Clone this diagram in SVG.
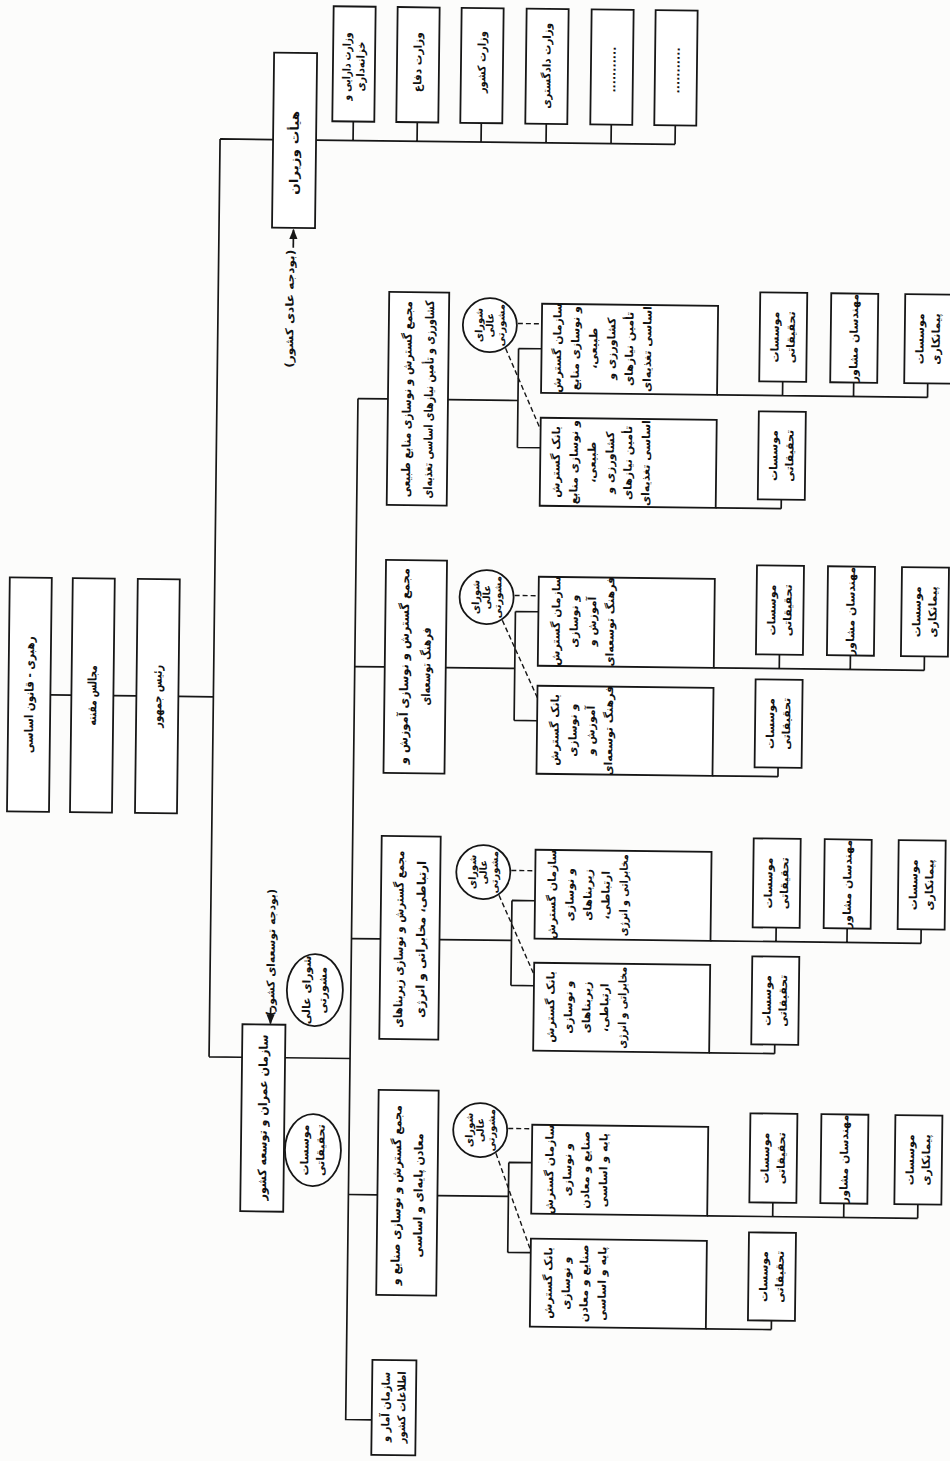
<svg xmlns="http://www.w3.org/2000/svg" width="950" height="1461" viewBox="0 0 950 1461">
<style>
.bx{fill:#fff;stroke:#161616;stroke-width:1.8}
.ln{fill:none;stroke:#161616;stroke-width:1.7}
.ds{fill:none;stroke:#161616;stroke-width:1.4;stroke-dasharray:5 3}
text{font-family:"DejaVu Sans",sans-serif;font-weight:bold;fill:#111;direction:rtl;text-anchor:middle;dominant-baseline:central}
.f13{font-size:13px}.f12{font-size:12px}.f11{font-size:11px}.f10{font-size:10px}
</style>
<defs>
<marker id="ah" viewBox="0 0 10 10" refX="9" refY="5" markerWidth="6" markerHeight="6" orient="auto"><path d="M0,1 L10,5 L0,9 z" fill="#161616"/></marker>
</defs>
<rect width="950" height="1461" fill="#fcfcfb"/>
<g transform="rotate(0.6875 475 730)">
<g id="connectors">
<path class="ln" d="M50,700H71 M113,700H136 M178,700H213 M213,142V1060 M213,142H266 M213,1060H246 M289,1060H354"/>
<path class="ln" d="M309,142H668 M346,123V142 M410,123V142 M474,123V142 M539,123V142 M604,123V142 M668,123V142"/>
<path class="ln" d="M287.5,250V232" marker-end="url(#ah)"/>
<path class="ln" d="M274,1010V1026" marker-end="url(#ah)"/>
<path class="ln" d="M354,400V1421H380"/>
<path class="ln" d="M354,400H384 M444,400H514 M514,348V447 M514,348H537 M514,447H537 M713,392H923.5 M778.5,378V392 M849.5,378V392 M923.5,378V392 M713,505H778.5 M778.5,496V505"/>
<path class="ds" d="M513,323H537 M501,348L537,429"/>
<path class="ln" d="M354,668H384 M445,668H514 M514,611V720 M514,611H537 M514,720H537 M713,665H923.5 M778.5,651V665 M849.5,651V665 M923.5,651V665 M713,773H778.5 M778.5,764V773"/>
<path class="ds" d="M513,595H537 M501,620L537,697"/>
<path class="ln" d="M354,940H383 M442,940H514 M514,900V985 M514,900H537 M514,985H537 M713,938H923.5 M778.5,924V938 M849.5,924V938 M923.5,924V938 M713,1050H778.5 M778.5,1041V1050"/>
<path class="ds" d="M513,870H537 M501,895L537,974"/>
<path class="ln" d="M354,1196H383 M443,1196H514 M514,1162V1252 M514,1162H537 M514,1252H537 M713,1213H923.5 M778.5,1199V1213 M849.5,1199V1213 M923.5,1199V1213 M713,1326H778.5 M778.5,1317V1326"/>
<path class="ds" d="M513,1128H537 M501,1153L537,1250"/>
</g>

<g id="rahbari"><rect class="bx" x="8" y="583" width="42" height="234"/><text class="f12" textLength="117" lengthAdjust="spacingAndGlyphs" transform="translate(29,700) rotate(-90)">رهبری - قانون اساسی</text></g>
<g id="majales"><rect class="bx" x="71" y="583" width="42" height="234"/><text class="f12" textLength="60" lengthAdjust="spacingAndGlyphs" transform="translate(92,700) rotate(-90)">مجالس مقننه</text></g>
<g id="raees"><rect class="bx" x="136" y="583" width="42" height="234"/><text class="f12" textLength="63" lengthAdjust="spacingAndGlyphs" transform="translate(157,700) rotate(-90)">رئیس جمهور</text></g>

<g id="hayat"><rect class="bx" x="266" y="55" width="43" height="175"/><text class="f12" textLength="84" lengthAdjust="spacingAndGlyphs" transform="translate(287.5,155) rotate(-90)">هیأت وزیران</text></g>
<g id="budget1"><text class="f11" textLength="118" lengthAdjust="spacingAndGlyphs" transform="translate(285,311) rotate(-90)">(بودجه عادی کشور)</text></g>

<g id="min1"><rect class="bx" x="325" y="8" width="42" height="115"/><g transform="translate(346,68) rotate(-90)"><text class="f11" y="-7" textLength="68" lengthAdjust="spacingAndGlyphs">وزارت دارایی و</text><text class="f11" y="7" textLength="50" lengthAdjust="spacingAndGlyphs">خزانه‌داری</text></g></g>
<g id="min2"><rect class="bx" x="389" y="8" width="42" height="115"/><text class="f11" textLength="60" lengthAdjust="spacingAndGlyphs" transform="translate(410,63) rotate(-90)">وزارت دفاع</text></g>
<g id="min3"><rect class="bx" x="453" y="8" width="42" height="115"/><text class="f11" textLength="62" lengthAdjust="spacingAndGlyphs" transform="translate(474,62) rotate(-90)">وزارت کشور</text></g>
<g id="min4"><rect class="bx" x="518" y="8" width="42" height="115"/><text class="f11" textLength="86" lengthAdjust="spacingAndGlyphs" transform="translate(539,65) rotate(-90)">وزارت دادگستری</text></g>
<g id="min5"><rect class="bx" x="583" y="8" width="42" height="115"/><text class="f11" transform="translate(604,68) rotate(-90)">...........</text></g>
<g id="min6"><rect class="bx" x="647" y="8" width="42" height="115"/><text class="f11" transform="translate(668,68) rotate(-90)">...........</text></g>

<g id="omran"><rect class="bx" x="246" y="1027" width="43" height="187"/><text class="f12" textLength="166" lengthAdjust="spacingAndGlyphs" transform="translate(267.5,1120) rotate(-90)">سازمان عمران و توسعه کشور</text></g>
<g id="budget2"><text class="f11" textLength="127" lengthAdjust="spacingAndGlyphs" transform="translate(274,955) rotate(-90)">(بودجه توسعه‌ای کشور)</text></g>
<g id="shora0"><ellipse class="bx" cx="318" cy="992" rx="28" ry="36"/><g transform="translate(318,992) rotate(-90)"><text class="f11" y="-8">شورای عالی</text><text class="f11" y="8">مشورتی</text></g></g>
<g id="moassesat0"><ellipse class="bx" cx="318" cy="1152" rx="28" ry="36"/><g transform="translate(318,1152) rotate(-90)"><text class="f11" y="-8">موسسات</text><text class="f11" y="8">تحقیقاتی</text></g></g>

<g id="amar"><rect class="bx" x="380" y="1361" width="44" height="95"/><g transform="translate(402,1408) rotate(-90)"><text class="f11" y="-8" textLength="70" lengthAdjust="spacingAndGlyphs">سازمان آمار و</text><text class="f11" y="8" textLength="72" lengthAdjust="spacingAndGlyphs">اطلاعات کشور</text></g></g>

<!-- Branch 1 -->
<g id="majma1"><rect class="bx" x="384" y="293" width="60" height="213"/><g transform="translate(414,400) rotate(-90)"><text class="f12" y="-11" textLength="196" lengthAdjust="spacingAndGlyphs">مجمع گسترش و نوسازی منابع طبیعی</text><text class="f12" y="11" textLength="198" lengthAdjust="spacingAndGlyphs">کشاورزی و تأمین نیازهای اساسی تغذیه‌ای</text></g></g>
<g id="shora1"><circle class="bx" cx="485" cy="325" r="27"/><g transform="translate(485,325) rotate(-90)"><text class="f10" y="-11">شورای</text><text class="f10" y="0">عالی</text><text class="f10" y="11">مشورتی</text></g></g>
<g id="sazman1"><rect class="bx" x="537" y="303" width="176" height="89"/><g transform="translate(598,347) rotate(-90)"><text class="f11" y="-45">سازمان گسترش</text><text class="f11" y="-27">و نوسازی منابع</text><text class="f11" y="-9">طبیعی،</text><text class="f11" y="9">کشاورزی و</text><text class="f11" y="27">تأمین نیازهای</text><text class="f11" y="45">اساسی تغذیه‌ای</text></g></g>
<g id="bank1"><rect class="bx" x="537" y="417" width="176" height="88"/><g transform="translate(598,461) rotate(-90)"><text class="f11" y="-45">بانک گسترش</text><text class="f11" y="-27">و نوسازی منابع</text><text class="f11" y="-9">طبیعی،</text><text class="f11" y="9">کشاورزی و</text><text class="f11" y="27">تأمین نیازهای</text><text class="f11" y="45">اساسی تغذیه‌ای</text></g></g>
<g id="s1c1"><rect class="bx" x="755" y="289" width="47" height="89"/><g transform="translate(778.5,333.5) rotate(-90)"><text class="f11" y="-8">موسسات</text><text class="f11" y="8">تحقیقاتی</text></g></g>
<g id="s1c2"><rect class="bx" x="826" y="289" width="47" height="89"/><text class="f11" transform="translate(849.5,333.5) rotate(-90)">مهندسان مشاور</text></g>
<g id="s1c3"><rect class="bx" x="900" y="289" width="47" height="89"/><g transform="translate(923.5,333.5) rotate(-90)"><text class="f11" y="-8">موسسات</text><text class="f11" y="8">پیمانکاری</text></g></g>
<g id="b1c1"><rect class="bx" x="755" y="408" width="47" height="88"/><g transform="translate(778.5,452) rotate(-90)"><text class="f11" y="-8">موسسات</text><text class="f11" y="8">تحقیقاتی</text></g></g>

<!-- Branch 2 -->
<g id="majma2"><rect class="bx" x="384" y="561" width="61" height="213"/><g transform="translate(414.5,667) rotate(-90)"><text class="f12" y="-11" textLength="196" lengthAdjust="spacingAndGlyphs">مجمع گسترش و نوسازی آموزش و</text><text class="f12" y="11" textLength="78" lengthAdjust="spacingAndGlyphs">فرهنگ توسعه‌ای</text></g></g>
<g id="shora2"><circle class="bx" cx="485" cy="597" r="27"/><g transform="translate(485,597) rotate(-90)"><text class="f10" y="-11">شورای</text><text class="f10" y="0">عالی</text><text class="f10" y="11">مشورتی</text></g></g>
<g id="sazman2"><rect class="bx" x="537" y="576" width="176" height="89"/><g transform="translate(582,620) rotate(-90)"><text class="f11" y="-27">سازمان گسترش</text><text class="f11" y="-9">و نوسازی</text><text class="f11" y="9">آموزش و</text><text class="f11" y="27">فرهنگ توسعه‌ای</text></g></g>
<g id="bank2"><rect class="bx" x="537" y="685" width="176" height="88"/><g transform="translate(582,729) rotate(-90)"><text class="f11" y="-27">بانک گسترش</text><text class="f11" y="-9">و نوسازی</text><text class="f11" y="9">آموزش و</text><text class="f11" y="27">فرهنگ توسعه‌ای</text></g></g>
<g id="s2c1"><rect class="bx" x="755" y="562" width="47" height="89"/><g transform="translate(778.5,606.5) rotate(-90)"><text class="f11" y="-8">موسسات</text><text class="f11" y="8">تحقیقاتی</text></g></g>
<g id="s2c2"><rect class="bx" x="826" y="562" width="47" height="89"/><text class="f11" transform="translate(849.5,606.5) rotate(-90)">مهندسان مشاور</text></g>
<g id="s2c3"><rect class="bx" x="900" y="562" width="47" height="89"/><g transform="translate(923.5,606.5) rotate(-90)"><text class="f11" y="-8">موسسات</text><text class="f11" y="8">پیمانکاری</text></g></g>
<g id="b2c1"><rect class="bx" x="755" y="676" width="47" height="88"/><g transform="translate(778.5,720) rotate(-90)"><text class="f11" y="-8">موسسات</text><text class="f11" y="8">تحقیقاتی</text></g></g>

<!-- Branch 3 -->
<g id="majma3"><rect class="bx" x="383" y="837" width="59" height="203"/><g transform="translate(412.5,940) rotate(-90)"><text class="f12" y="-11" textLength="177" lengthAdjust="spacingAndGlyphs">مجمع گسترش و نوسازی زیربناهای</text><text class="f12" y="11" textLength="157" lengthAdjust="spacingAndGlyphs">ارتباطی، مخابراتی و انرژی</text></g></g>
<g id="shora3"><circle class="bx" cx="485" cy="872" r="27"/><g transform="translate(485,872) rotate(-90)"><text class="f10" y="-11">شورای</text><text class="f10" y="0">عالی</text><text class="f10" y="11">مشورتی</text></g></g>
<g id="sazman3"><rect class="bx" x="537" y="849" width="176" height="89"/><g transform="translate(590,893.5) rotate(-90)"><text class="f11" y="-36">سازمان گسترش</text><text class="f11" y="-18">و نوسازی</text><text class="f11" y="0">زیربناهای</text><text class="f11" y="18">ارتباطی،</text><text class="f11" y="36" textLength="82" lengthAdjust="spacingAndGlyphs">مخابراتی و انرژی</text></g></g>
<g id="bank3"><rect class="bx" x="537" y="962" width="176" height="88"/><g transform="translate(590,1006) rotate(-90)"><text class="f11" y="-36">بانک گسترش</text><text class="f11" y="-18">و نوسازی</text><text class="f11" y="0">زیربناهای</text><text class="f11" y="18">ارتباطی،</text><text class="f11" y="36" textLength="82" lengthAdjust="spacingAndGlyphs">مخابراتی و انرژی</text></g></g>
<g id="s3c1"><rect class="bx" x="755" y="835" width="47" height="89"/><g transform="translate(778.5,879.5) rotate(-90)"><text class="f11" y="-8">موسسات</text><text class="f11" y="8">تحقیقاتی</text></g></g>
<g id="s3c2"><rect class="bx" x="826" y="835" width="47" height="89"/><text class="f11" transform="translate(849.5,879.5) rotate(-90)">مهندسان مشاور</text></g>
<g id="s3c3"><rect class="bx" x="900" y="835" width="47" height="89"/><g transform="translate(923.5,879.5) rotate(-90)"><text class="f11" y="-8">موسسات</text><text class="f11" y="8">پیمانکاری</text></g></g>
<g id="b3c1"><rect class="bx" x="755" y="953" width="47" height="88"/><g transform="translate(778.5,997) rotate(-90)"><text class="f11" y="-8">موسسات</text><text class="f11" y="8">تحقیقاتی</text></g></g>

<!-- Branch 4 -->
<g id="majma4"><rect class="bx" x="383" y="1091" width="60" height="205"/><g transform="translate(413,1196) rotate(-90)"><text class="f12" y="-11" textLength="180" lengthAdjust="spacingAndGlyphs">مجمع گسترش و نوسازی صنایع و</text><text class="f12" y="11" textLength="124" lengthAdjust="spacingAndGlyphs">معادن پایه‌ای و اساسی</text></g></g>
<g id="shora4"><circle class="bx" cx="485" cy="1130" r="27"/><g transform="translate(485,1130) rotate(-90)"><text class="f10" y="-11">شورای</text><text class="f10" y="0">عالی</text><text class="f10" y="11">مشورتی</text></g></g>
<g id="sazman4"><rect class="bx" x="537" y="1124" width="176" height="89"/><g transform="translate(582,1168.5) rotate(-90)"><text class="f11" y="-27">سازمان گسترش</text><text class="f11" y="-9">و نوسازی</text><text class="f11" y="9">صنایع و معادن</text><text class="f11" y="27">پایه و اساسی</text></g></g>
<g id="bank4"><rect class="bx" x="537" y="1238" width="176" height="88"/><g transform="translate(582,1282) rotate(-90)"><text class="f11" y="-27">بانک گسترش</text><text class="f11" y="-9">و نوسازی</text><text class="f11" y="9">صنایع و معادن</text><text class="f11" y="27">پایه و اساسی</text></g></g>
<g id="s4c1"><rect class="bx" x="755" y="1110" width="47" height="89"/><g transform="translate(778.5,1154.5) rotate(-90)"><text class="f11" y="-8">موسسات</text><text class="f11" y="8">تحقیقاتی</text></g></g>
<g id="s4c2"><rect class="bx" x="826" y="1110" width="47" height="89"/><text class="f11" transform="translate(849.5,1154.5) rotate(-90)">مهندسان مشاور</text></g>
<g id="s4c3"><rect class="bx" x="900" y="1110" width="47" height="89"/><g transform="translate(923.5,1154.5) rotate(-90)"><text class="f11" y="-8">موسسات</text><text class="f11" y="8">پیمانکاری</text></g></g>
<g id="b4c1"><rect class="bx" x="755" y="1229" width="47" height="88"/><g transform="translate(778.5,1273) rotate(-90)"><text class="f11" y="-8">موسسات</text><text class="f11" y="8">تحقیقاتی</text></g></g>
</g>
</svg>
